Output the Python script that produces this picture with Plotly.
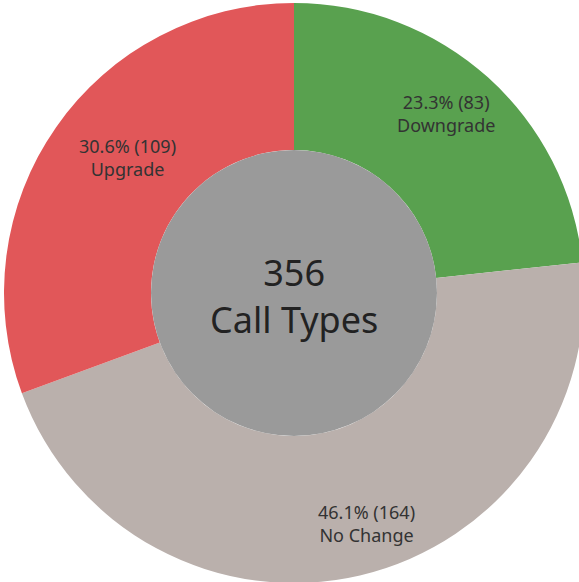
import plotly.graph_objects as go

# Call type breakdown
categories = ["Downgrade", "No Change", "Upgrade"]
counts = [83, 164, 109]
colors = ["#59A14F", "#BAB0AC", "#E15759"]
center_label = "Call Types"

W, H = 590, 590
cx, cy = 294, 293          # donut centre in pixels (from top-left)
r_out, r_in = 290, 143     # outer / inner radii in pixels

total = sum(counts)

fig = go.Figure(
    go.Pie(
        labels=categories,
        values=counts,
        marker=dict(colors=colors, line=dict(width=0)),
        hole=r_in / r_out,
        sort=False,
        direction="clockwise",
        rotation=0,
        textinfo="none",
        hoverinfo="label+value+percent",
        showlegend=False,
        domain=dict(
            x=[(cx - r_out) / W, (cx + r_out) / W],
            y=[(H - cy - r_out) / H, (H - cy + r_out) / H],
        ),
    )
)

# grey disc filling the centre of the donut
fig.add_shape(
    type="circle", xref="paper", yref="paper",
    x0=(cx - r_in) / W, x1=(cx + r_in) / W,
    y0=(H - cy - r_in) / H, y1=(H - cy + r_in) / H,
    fillcolor="#9A9A9A", line=dict(width=0), layer="above",
)

font = "Noto Sans, Open Sans, sans-serif"

# slice labels: pixel anchor of each label block
label_pos = {"Downgrade": (446, 114), "No Change": (366, 523), "Upgrade": (127, 157)}
for cat, n in zip(categories, counts):
    px, py = label_pos[cat]
    fig.add_annotation(
        x=px / W, y=(H - py) / H, xref="paper", yref="paper",
        text=f"{n / total * 100:.1f}% ({n})<br>{cat}",
        showarrow=False, xanchor="center", yanchor="middle",
        font=dict(family=font, size=18, color="#333333"),
    )

fig.add_annotation(
    x=cx / W, y=(H - 296) / H, xref="paper", yref="paper",
    text=f"{total}<br>{center_label}",
    showarrow=False, xanchor="center", yanchor="middle",
    font=dict(family=font, size=36, color="#222222"),
)

fig.update_layout(
    width=W, height=H,
    margin=dict(l=0, r=0, t=0, b=0),
    paper_bgcolor="white", plot_bgcolor="white",
)

fig.write_html(
    "out.html",
    post_script="document.documentElement.style.overflow='hidden';document.body.style.overflow='hidden';document.body.style.margin='0';",
)
